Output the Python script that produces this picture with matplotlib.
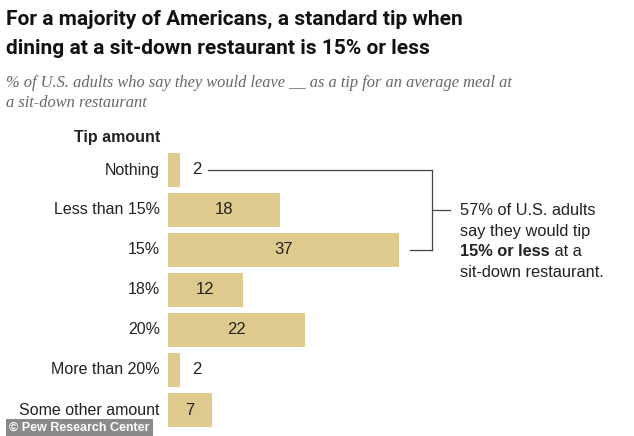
import matplotlib.pyplot as plt

categories = ["Nothing", "Less than 15%", "15%", "18%", "20%", "More than 20%", "Some other amount"]
values = [2, 18, 37, 12, 22, 2, 7]

W, H = 634, 436
bar_color = "#DFCA8D"
ink = "#222222"

fig = plt.figure(figsize=(W / 100, H / 100), dpi=100)

def px(x, y):
    # pixel coords (top-left origin) -> figure fraction
    return x / W, 1 - y / H

# axes placed in pixels: x 168..634, y 150..430
ax_l, ax_r, ax_t, ax_b = 168, 634, 150, 430
ax = fig.add_axes([ax_l / W, 1 - ax_b / H, (ax_r - ax_l) / W, (ax_b - ax_t) / H])
scale = 6.24  # px per unit
ax.set_xlim(0, (ax_r - ax_l) / scale)
ax.set_ylim(len(categories) - 0.5, -0.5)
ax.axis("off")

ypos = list(range(len(categories)))
ax.barh(ypos, values, height=0.83, color=bar_color)

lab_font = "Liberation Sans"
for y, c, v in zip(ypos, categories, values):
    ax.text(-1.3, y, c, ha="right", va="center", fontsize=11.5, family=lab_font, color=ink)
    if v < 5:
        ax.text(v + 1.8, y, str(v), ha="left", va="center", fontsize=12, family=lab_font, color=ink)
    else:
        ax.text(v / 2, y, str(v), ha="center", va="center", fontsize=12, family=lab_font, color=ink)

ax.text(-1.3, -0.82, "Tip amount", ha="right", va="center", fontsize=11.5,
        family=lab_font, fontweight="bold", color=ink)

# bracket
bx = (432 - ax_l) / scale
lc = "#444444"
ax.plot([(208 - ax_l) / scale, bx], [0, 0], color=lc, lw=0.9, clip_on=False)
ax.plot([(410 - ax_l) / scale, bx], [2, 2], color=lc, lw=0.9, clip_on=False)
ax.plot([bx, bx], [0, 2], color=lc, lw=0.9, clip_on=False)
ax.plot([bx, (450 - ax_l) / scale], [1, 1], color=lc, lw=0.9, clip_on=False)

# annotation text
tx = 460
fs = 11.8
fig.text(*px(tx, 210), "57% of U.S. adults", ha="left", va="center", fontsize=fs, family=lab_font, color=ink)
fig.text(*px(tx, 231), "say they would tip", ha="left", va="center", fontsize=fs, family=lab_font, color=ink)
b = fig.text(*px(tx, 251), "15% or less", ha="left", va="center", fontsize=fs, family=lab_font,
             fontweight="bold", color=ink)
fig.canvas.draw()
bw = b.get_window_extent().width
fig.text(*px(tx + bw, 251), " at a", ha="left", va="center", fontsize=fs, family=lab_font, color=ink)
fig.text(*px(tx, 272), "sit-down restaurant.", ha="left", va="center", fontsize=fs, family=lab_font, color=ink)

# title: fit each line to the reference width
title_font = ["Roboto", "DejaVu Sans"]
t1 = fig.text(*px(6, 19), "For a majority of Americans, a standard tip when", ha="left", va="center",
              fontsize=17, family=title_font, fontweight="bold", color="#111111")
t2 = fig.text(*px(6, 48), "dining at a sit-down restaurant is 15% or less", ha="left", va="center",
              fontsize=17, family=title_font, fontweight="bold", color="#111111")
fig.canvas.draw()
w1 = t1.get_window_extent().width
new_fs = 17 * 455 / w1
t1.set_fontsize(new_fs)
t2.set_fontsize(new_fs)

sub_font = ["Liberation Serif", "DejaVu Serif"]
fig.text(*px(6, 83), "% of U.S. adults who say they would leave __ as a tip for an average meal at",
         ha="left", va="center", fontsize=11.8, family=sub_font, style="italic", color="#666666")
fig.text(*px(6, 103), "a sit-down restaurant", ha="left", va="center", fontsize=11.8,
         family=sub_font, style="italic", color="#666666")

# footer watermark
fig.text(*px(9, 428), "© Pew Research Center", ha="left", va="center", fontsize=9,
         family=lab_font, fontweight="bold", color="white",
         bbox=dict(boxstyle="square,pad=0.25", fc="#8a8a8a", ec="none"))

fig.savefig("out.png", dpi=100)
